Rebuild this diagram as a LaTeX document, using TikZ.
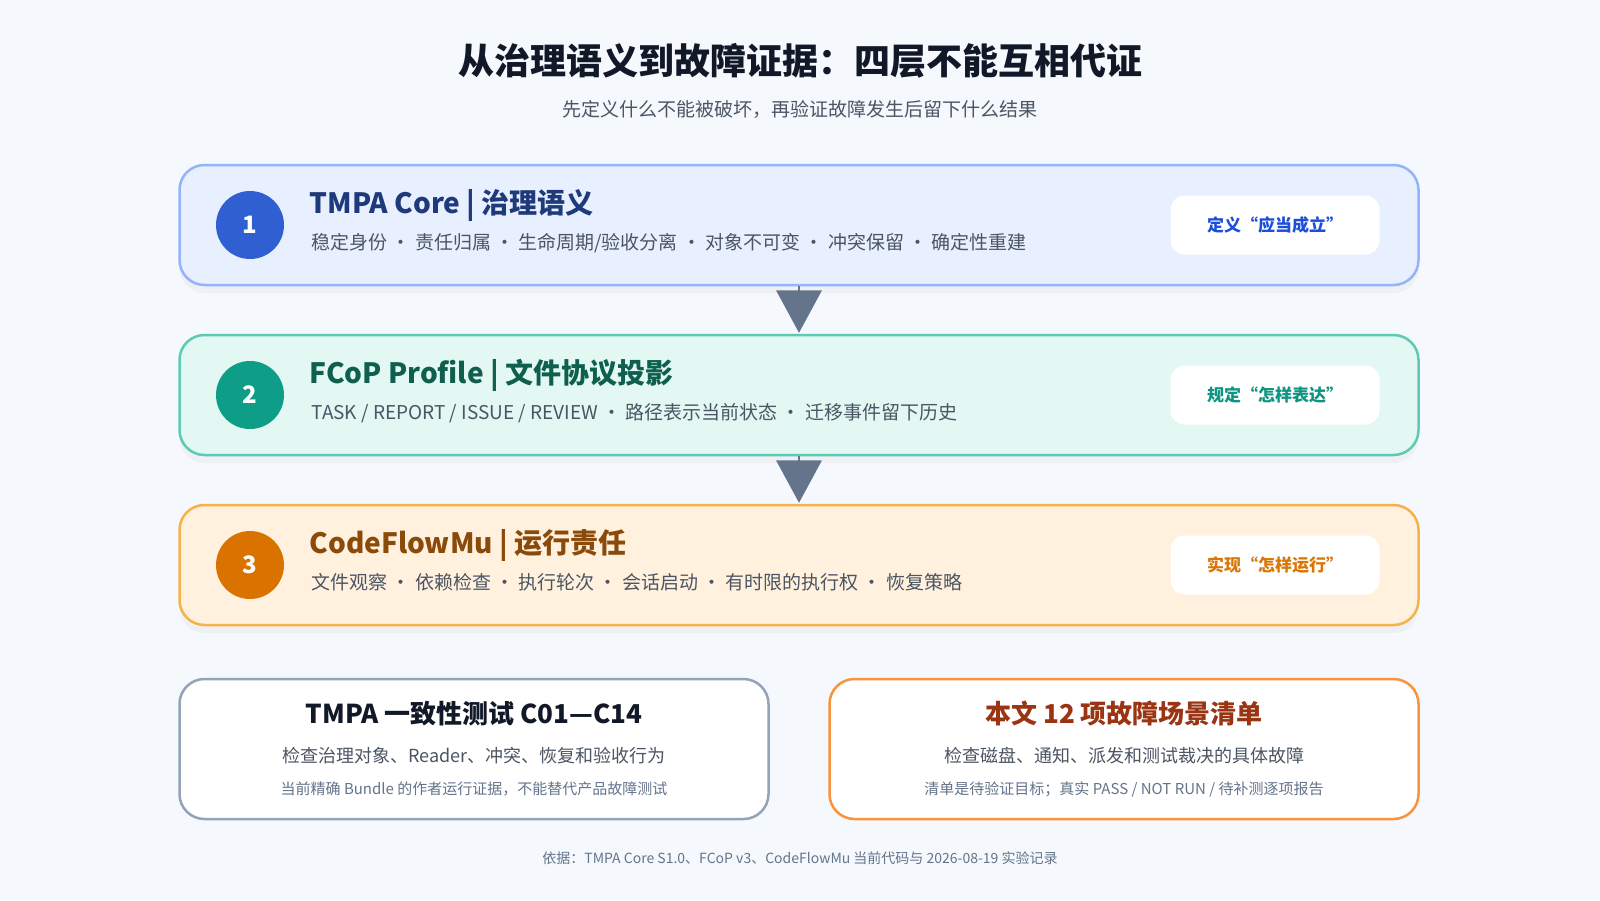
\documentclass[tikz,border=0pt]{standalone}
\usepackage{fontspec}
\setmainfont{Noto Sans CJK SC}
\usetikzlibrary{shapes, calc, positioning, shadows}
\definecolor{bgc}{HTML}{F5F8FC}
\definecolor{inkc}{HTML}{111827}
\definecolor{greyc}{HTML}{4B5563}
\definecolor{slatec}{HTML}{64748B}
\definecolor{fillA}{HTML}{E8EFFE}\definecolor{lineA}{HTML}{93B4FA}\definecolor{dotA}{HTML}{2F5FD0}\definecolor{headA}{HTML}{1E3A7A}\definecolor{tagA}{HTML}{1D4ED8}
\definecolor{fillB}{HTML}{E3F7F3}\definecolor{lineB}{HTML}{5CCBB5}\definecolor{dotB}{HTML}{0E9E87}\definecolor{headB}{HTML}{0F5F4F}\definecolor{tagB}{HTML}{0E9482}
\definecolor{fillC}{HTML}{FFF1DD}\definecolor{lineC}{HTML}{F6B24A}\definecolor{dotC}{HTML}{DA7200}\definecolor{headC}{HTML}{8A4A0A}\definecolor{tagC}{HTML}{D97706}
\definecolor{lineD}{HTML}{94A3B8}\definecolor{lineE}{HTML}{FB923C}\definecolor{headE}{HTML}{9A3412}
\tikzset{
  layer/.style={draw=#1, line width=2.5pt, rounded corners=25pt, minimum width=1239pt, minimum height=120pt,
    drop shadow={opacity=0.06, shadow xshift=0pt, shadow yshift=-8pt}},
  dot/.style={circle, fill=#1, minimum size=68pt, inner sep=0pt, text=white, font=\fontsize{24}{24}\selectfont\bfseries},
  head/.style={anchor=base west, text=#1, font=\fontsize{28}{28}\selectfont\bfseries},
  sub/.style={anchor=base west, text=greyc, font=\fontsize{19}{19}\selectfont},
  tag/.style={fill=white, rounded corners=14pt, minimum width=209pt, minimum height=59pt, text=#1, font=\fontsize{17}{17}\selectfont\bfseries},
  down/.style={fill=slatec, draw=none},
  card/.style={draw=#1, fill=white, line width=2.5pt, rounded corners=25pt, minimum width=589pt, minimum height=140pt},
}
\begin{document}
\begin{tikzpicture}[x=1pt, y=-1pt]
\fill[bgc] (0,0) rectangle (1600,900);

% title
\node[text=inkc, font=\fontsize{36}{36}\selectfont\bfseries] (title) at (800,61) {从治理语义到故障证据：四层不能互相代证};
\node[text=greyc, font=\fontsize{19}{19}\selectfont] (subtitle) at (800,109) {先定义什么不能被破坏，再验证故障发生后留下什么结果};

% three layers
\foreach \i/\y/\k/\hd/\sb/\tg in {
  1/225/A/{TMPA Core | 治理语义}/{稳定身份 · 责任归属 · 生命周期/验收分离 · 对象不可变 · 冲突保留 · 确定性重建}/{定义“应当成立”},
  2/395/B/{FCoP Profile | 文件协议投影}/{TASK / REPORT / ISSUE / REVIEW · 路径表示当前状态 · 迁移事件留下历史}/{规定“怎样表达”},
  3/565/C/{CodeFlowMu | 运行责任}/{文件观察 · 依赖检查 · 执行轮次 · 会话启动 · 有时限的执行权 · 恢复策略}/{实现“怎样运行”}} {
  \node[layer=line\k, fill=fill\k] (layer\i) at (799,\y) {};
  \node[dot=dot\k] (dot\i) at (250,\y) {\i};
  \node[head=head\k] (head\i) at (306,\y-12) {\hd};
  \node[sub] (sub\i) at (308,\y+24) {\sb};
  \node[tag=tag\k] (tag\i) at (1275,\y) {\tg};
}

% arrows between layers
\foreach \a/\b in {1/2, 2/3} {
  \fill[down] ($(layer\a.south)+(-23,4)$) -- ($(layer\a.south)+(23,4)$) -- ($(layer\b.north)+(0,-1)$) -- cycle;
  \draw[slatec, line width=2pt] (layer\a.south) -- ++(0,6);
}

% bottom cards
\node[card=lineD] (tests) at (474,749) {};
\node[text=inkc, font=\fontsize{26}{26}\selectfont\bfseries] (testsHead) at (474,714) {TMPA 一致性测试 C01—C14};
\node[text=greyc, font=\fontsize{18}{18}\selectfont] (testsSub) at (474,756) {检查治理对象、Reader、冲突、恢复和验收行为};
\node[text=slatec, font=\fontsize{15}{15}\selectfont] (testsNote) at (474,789) {当前精确 Bundle 的作者运行证据，不能替代产品故障测试};

\node[card=lineE] (faults) at (1124,749) {};
\node[text=headE, font=\fontsize{26}{26}\selectfont\bfseries] (faultsHead) at (1124,714) {本文 12 项故障场景清单};
\node[text=greyc, font=\fontsize{18}{18}\selectfont] (faultsSub) at (1124,756) {检查磁盘、通知、派发和测试裁决的具体故障};
\node[text=slatec, font=\fontsize{15}{15}\selectfont] (faultsNote) at (1124,789) {清单是待验证目标；真实 PASS / NOT RUN / 待补测逐项报告};

% source
\node[text=slatec, font=\fontsize{14}{14}\selectfont] (source) at (800,858) {依据：TMPA Core S1.0、FCoP v3、CodeFlowMu 当前代码与 2026-08-19 实验记录};
\end{tikzpicture}
\end{document}
